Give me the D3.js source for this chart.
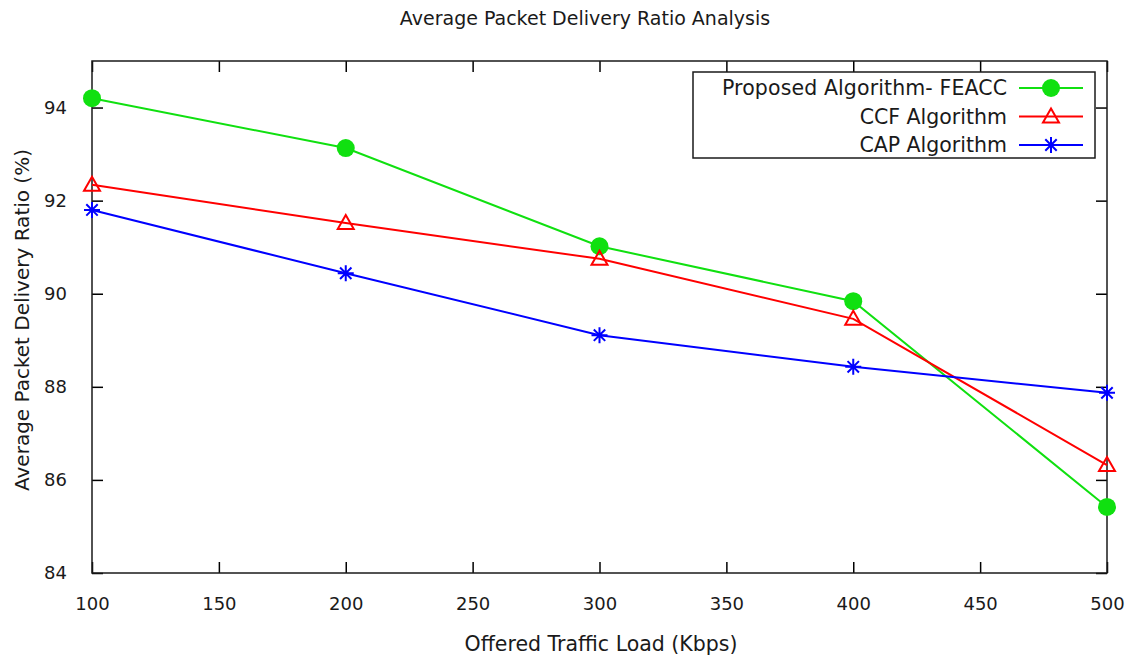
<!DOCTYPE html>
<html lang="en">
<head>
    <meta charset="UTF-8">
    <title>Average Packet Delivery Ratio Analysis</title>
    <script src="https://d3js.org/d3.v7.min.js"></script>
    <style>
        html, body {
            margin: 0;
            padding: 0;
            background: #fff;
        }
        svg text {
            font-family: 'DejaVu Sans', sans-serif;
            fill: #1a1a1a;
        }
    </style>
</head>
<body>
    <div id="chart"></div>
    <script>
        const loads = [100, 200, 300, 400, 500];
        const feacc = [94.2, 93.13, 91.02, 89.84, 85.42];
        const ccf = [92.34, 91.52, 90.75, 89.46, 86.32];
        const cap = [91.8, 90.44, 89.11, 88.43, 87.87];
        const xTicks = [100, 150, 200, 250, 300, 350, 400, 450, 500];
        const yTicks = [84, 86, 88, 90, 92, 94];

        const series = [
            {name: "Proposed Algorithm- FEACC", values: feacc, colour: "#10e010", marker: "circle"},
            {name: "CCF Algorithm", values: ccf, colour: "#ff0000", marker: "triangle"},
            {name: "CAP Algorithm", values: cap, colour: "#0000ff", marker: "star"}
        ];

        const W = 1139, H = 659;
        const plot = {left: 92, right: 1107, top: 61, bottom: 573};

        const svg = d3.select("#chart").append("svg")
            .attr("width", W)
            .attr("height", H);

        const x = d3.scaleLinear().domain([100, 500]).range([plot.left, plot.right]);
        const y = d3.scaleLinear().domain([84, 95]).range([plot.bottom, plot.top]);

        // frame ticks, gnuplot style (inward, mirrored)
        const tickLen = 11;
        const axes = svg.append("g").attr("stroke", "#1a1a1a").attr("stroke-width", 1.5);

        axes.append("g")
            .attr("transform", `translate(0,${plot.bottom})`)
            .call(d3.axisBottom(x).tickValues(xTicks).tickSizeInner(-tickLen).tickSizeOuter(0).tickPadding(24))
            .call(g => g.select(".domain").remove());
        axes.append("g")
            .attr("transform", `translate(0,${plot.top})`)
            .call(d3.axisTop(x).tickValues(xTicks).tickSizeInner(-tickLen).tickSizeOuter(0).tickFormat(""))
            .call(g => g.select(".domain").remove());
        axes.append("g")
            .attr("transform", `translate(${plot.left},0)`)
            .call(d3.axisLeft(y).tickValues(yTicks).tickSizeInner(-tickLen).tickSizeOuter(0).tickPadding(25))
            .call(g => g.select(".domain").remove());
        axes.append("g")
            .attr("transform", `translate(${plot.right},0)`)
            .call(d3.axisRight(y).tickValues(yTicks).tickSizeInner(-tickLen).tickSizeOuter(0).tickFormat(""))
            .call(g => g.select(".domain").remove());

        svg.selectAll(".tick text")
            .attr("stroke", "none")
            .style("font-size", "18px")
            .style("font-family", "'DejaVu Sans', sans-serif")
            .attr("fill", "#1a1a1a");

        svg.append("rect")
            .attr("x", plot.left)
            .attr("y", plot.top)
            .attr("width", plot.right - plot.left)
            .attr("height", plot.bottom - plot.top)
            .attr("fill", "none")
            .attr("stroke", "#1a1a1a")
            .attr("stroke-width", 1.5);

        // markers
        function drawMarker(g, type, colour, cx, cy) {
            if (type === "circle") {
                g.append("circle")
                    .attr("cx", cx).attr("cy", cy).attr("r", 9)
                    .attr("fill", colour);
            } else if (type === "triangle") {
                const s = 8;
                g.append("path")
                    .attr("d", `M${cx},${cy - s}L${cx + s},${cy + s * 0.75}L${cx - s},${cy + s * 0.75}Z`)
                    .attr("fill", "none")
                    .attr("stroke", colour)
                    .attr("stroke-width", 2);
            } else {
                const s = 8, d = 5.7;
                g.append("path")
                    .attr("d", `M${cx - s},${cy}L${cx + s},${cy}M${cx},${cy - s}L${cx},${cy + s}` +
                        `M${cx - d},${cy - d}L${cx + d},${cy + d}M${cx - d},${cy + d}L${cx + d},${cy - d}`)
                    .attr("stroke", colour)
                    .attr("stroke-width", 2);
            }
        }

        const line = d3.line()
            .x((d, i) => x(loads[i]))
            .y(d => y(d));

        series.forEach(s => {
            svg.append("path")
                .datum(s.values)
                .attr("d", line)
                .attr("fill", "none")
                .attr("stroke", s.colour)
                .attr("stroke-width", 2);
            const g = svg.append("g");
            s.values.forEach((v, i) => drawMarker(g, s.marker, s.colour, x(loads[i]), y(v)));
        });

        // legend
        const legend = svg.append("g");
        legend.append("rect")
            .attr("x", 693).attr("y", 72)
            .attr("width", 402).attr("height", 86)
            .attr("fill", "#fff")
            .attr("stroke", "#1a1a1a")
            .attr("stroke-width", 1.5);
        series.forEach((s, i) => {
            const ly = 88 + i * 28.5;
            legend.append("text")
                .attr("x", 1007)
                .attr("y", ly)
                .attr("dy", "0.35em")
                .attr("text-anchor", "end")
                .style("font-size", "20.5px")
                .attr("textLength", i === 0 ? 285 : null)
                .text(s.name);
            legend.append("line")
                .attr("x1", 1019).attr("x2", 1083)
                .attr("y1", ly).attr("y2", ly)
                .attr("stroke", s.colour)
                .attr("stroke-width", 2);
            drawMarker(legend, s.marker, s.colour, 1051, ly);
        });

        // titles
        svg.append("text")
            .attr("x", 585).attr("y", 18)
            .attr("dy", "0.35em")
            .attr("text-anchor", "middle")
            .style("font-size", "19px")
            .text("Average Packet Delivery Ratio Analysis");

        svg.append("text")
            .attr("x", 601).attr("y", 644)
            .attr("dy", "0.35em")
            .attr("text-anchor", "middle")
            .style("font-size", "20.5px")
            .text("Offered Traffic Load (Kbps)");

        svg.append("text")
            .attr("transform", "translate(22,320) rotate(-90)")
            .attr("dy", "0.35em")
            .attr("text-anchor", "middle")
            .style("font-size", "20px")
            .text("Average Packet Delivery Ratio (%)");
    </script>
</body>
</html>
